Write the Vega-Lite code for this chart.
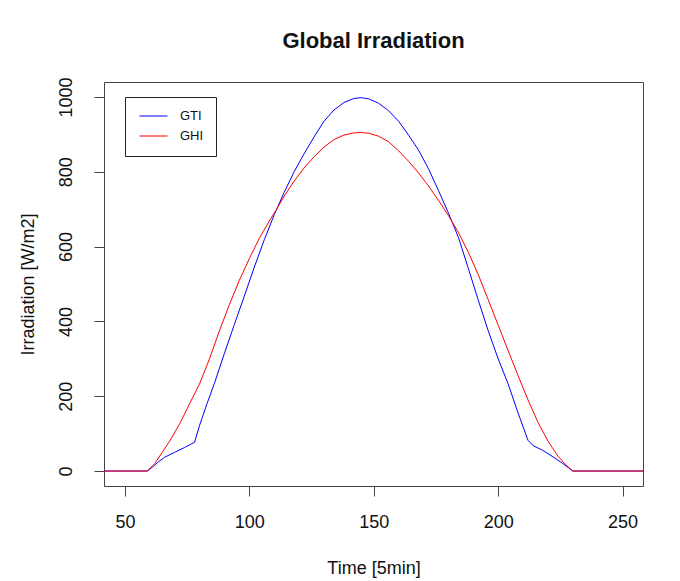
{
  "$schema": "https://vega.github.io/schema/vega-lite/v6.json",
  "width": 539,
  "height": 404,
  "autosize": {"type": "none"},
  "padding": {"left": 104, "top": 82, "right": 37, "bottom": 95},
  "background": "white",
  "title": {
    "text": "Global Irradiation",
    "font": "Liberation Sans",
    "fontSize": 22,
    "fontWeight": "bold",
    "color": "#111",
    "anchor": "middle",
    "frame": "group",
    "baseline": "alphabetic",
    "offset": 7
  },
  "config": {
    "view": {"stroke": "#444", "strokeWidth": 1},
    "axis": {
      "grid": false,
      "domain": false,
      "tickColor": "#444",
      "tickSize": 10,
      "labelFont": "Liberation Sans",
      "labelFontSize": 18,
      "labelColor": "#111",
      "titleFont": "Liberation Sans",
      "titleFontSize": 18,
      "titleFontWeight": "normal",
      "titleColor": "#111"
    }
  },
  "data": {
    "values": [
      {"t": 0, "series": "GTI", "v": 0},
      {"t": 59, "series": "GTI", "v": 0},
      {"t": 61, "series": "GTI", "v": 10},
      {"t": 63, "series": "GTI", "v": 22},
      {"t": 66, "series": "GTI", "v": 37},
      {"t": 70, "series": "GTI", "v": 50},
      {"t": 74, "series": "GTI", "v": 63},
      {"t": 78, "series": "GTI", "v": 77},
      {"t": 80, "series": "GTI", "v": 122},
      {"t": 83, "series": "GTI", "v": 180},
      {"t": 86, "series": "GTI", "v": 235},
      {"t": 90, "series": "GTI", "v": 315},
      {"t": 94, "series": "GTI", "v": 392},
      {"t": 98, "series": "GTI", "v": 468},
      {"t": 102, "series": "GTI", "v": 545},
      {"t": 106, "series": "GTI", "v": 618},
      {"t": 110, "series": "GTI", "v": 685},
      {"t": 114, "series": "GTI", "v": 745},
      {"t": 118, "series": "GTI", "v": 800},
      {"t": 122, "series": "GTI", "v": 848},
      {"t": 126, "series": "GTI", "v": 893},
      {"t": 130, "series": "GTI", "v": 935},
      {"t": 134, "series": "GTI", "v": 965},
      {"t": 138, "series": "GTI", "v": 985},
      {"t": 142, "series": "GTI", "v": 996},
      {"t": 145, "series": "GTI", "v": 998},
      {"t": 148, "series": "GTI", "v": 995},
      {"t": 152, "series": "GTI", "v": 983},
      {"t": 156, "series": "GTI", "v": 963},
      {"t": 160, "series": "GTI", "v": 935},
      {"t": 164, "series": "GTI", "v": 898},
      {"t": 168, "series": "GTI", "v": 858},
      {"t": 172, "series": "GTI", "v": 808},
      {"t": 176, "series": "GTI", "v": 750},
      {"t": 180, "series": "GTI", "v": 690},
      {"t": 184, "series": "GTI", "v": 625},
      {"t": 188, "series": "GTI", "v": 542},
      {"t": 192, "series": "GTI", "v": 457},
      {"t": 196, "series": "GTI", "v": 375},
      {"t": 200, "series": "GTI", "v": 300},
      {"t": 204, "series": "GTI", "v": 233},
      {"t": 208, "series": "GTI", "v": 155},
      {"t": 212, "series": "GTI", "v": 82},
      {"t": 214, "series": "GTI", "v": 68},
      {"t": 218, "series": "GTI", "v": 55},
      {"t": 222, "series": "GTI", "v": 38},
      {"t": 226, "series": "GTI", "v": 20},
      {"t": 230, "series": "GTI", "v": 0},
      {"t": 288, "series": "GTI", "v": 0},
      {"t": 0, "series": "GHI", "v": 0},
      {"t": 59, "series": "GHI", "v": 0},
      {"t": 62, "series": "GHI", "v": 20},
      {"t": 65, "series": "GHI", "v": 50},
      {"t": 68, "series": "GHI", "v": 80},
      {"t": 72, "series": "GHI", "v": 126},
      {"t": 76, "series": "GHI", "v": 180},
      {"t": 80, "series": "GHI", "v": 233},
      {"t": 84, "series": "GHI", "v": 300},
      {"t": 88, "series": "GHI", "v": 375},
      {"t": 92, "series": "GHI", "v": 445},
      {"t": 96, "series": "GHI", "v": 510},
      {"t": 100, "series": "GHI", "v": 568},
      {"t": 104, "series": "GHI", "v": 622},
      {"t": 108, "series": "GHI", "v": 668},
      {"t": 111, "series": "GHI", "v": 700},
      {"t": 114, "series": "GHI", "v": 735},
      {"t": 118, "series": "GHI", "v": 775},
      {"t": 122, "series": "GHI", "v": 810},
      {"t": 126, "series": "GHI", "v": 840},
      {"t": 130, "series": "GHI", "v": 866},
      {"t": 134, "series": "GHI", "v": 886},
      {"t": 138, "series": "GHI", "v": 898},
      {"t": 142, "series": "GHI", "v": 904},
      {"t": 145, "series": "GHI", "v": 905},
      {"t": 148, "series": "GHI", "v": 903},
      {"t": 152, "series": "GHI", "v": 895},
      {"t": 156, "series": "GHI", "v": 880},
      {"t": 160, "series": "GHI", "v": 856},
      {"t": 164, "series": "GHI", "v": 828},
      {"t": 168, "series": "GHI", "v": 797},
      {"t": 172, "series": "GHI", "v": 762},
      {"t": 176, "series": "GHI", "v": 724},
      {"t": 180, "series": "GHI", "v": 683},
      {"t": 184, "series": "GHI", "v": 638},
      {"t": 188, "series": "GHI", "v": 585},
      {"t": 192, "series": "GHI", "v": 525},
      {"t": 196, "series": "GHI", "v": 458},
      {"t": 200, "series": "GHI", "v": 390},
      {"t": 204, "series": "GHI", "v": 322},
      {"t": 208, "series": "GHI", "v": 255},
      {"t": 212, "series": "GHI", "v": 190},
      {"t": 216, "series": "GHI", "v": 130},
      {"t": 220, "series": "GHI", "v": 80},
      {"t": 224, "series": "GHI", "v": 40},
      {"t": 227, "series": "GHI", "v": 18},
      {"t": 230, "series": "GHI", "v": 0},
      {"t": 288, "series": "GHI", "v": 0}
    ]
  },
  "mark": {"type": "line", "clip": true, "strokeWidth": 1},
  "encoding": {
    "x": {
      "field": "t",
      "type": "quantitative",
      "scale": {"domain": [41.6, 258.2], "nice": false, "zero": false},
      "axis": {
        "values": [50, 100, 150, 200, 250],
        "format": "d",
        "labelPadding": 17,
        "title": "Time [5min]",
        "titleX": 269.5,
        "titleY": 87,
        "titleBaseline": "alphabetic",
        "titleAnchor": "middle"
      }
    },
    "y": {
      "field": "v",
      "type": "quantitative",
      "scale": {"domain": [-40, 1040], "nice": false, "zero": false},
      "axis": {
        "values": [0, 200, 400, 600, 800, 1000],
        "format": "d",
        "labelAngle": 270,
        "labelAlign": "center",
        "labelBaseline": "alphabetic",
        "labelPadding": 22.5,
        "title": "Irradiation [W/m2]",
        "titleX": -70.6,
        "titleY": 202,
        "titleAngle": 270,
        "titleAlign": "center",
        "titleBaseline": "alphabetic"
      }
    },
    "color": {
      "field": "series",
      "type": "nominal",
      "sort": null,
      "scale": {"domain": ["GTI", "GHI"], "range": ["#0000FF", "#FF0000"]},
      "legend": {
        "orient": "none",
        "legendX": 21,
        "legendY": 15,
        "title": null,
        "strokeColor": "#222",
        "fillColor": "white",
        "padding": 12.5,
        "symbolType": "M-0.75,0H3.92",
        "symbolSize": 144,
        "symbolStrokeWidth": 1,
        "labelFont": "Liberation Sans",
        "labelFontSize": 13,
        "labelColor": "#111",
        "labelOffset": 29.5,
        "rowPadding": 6
      }
    }
  }
}
